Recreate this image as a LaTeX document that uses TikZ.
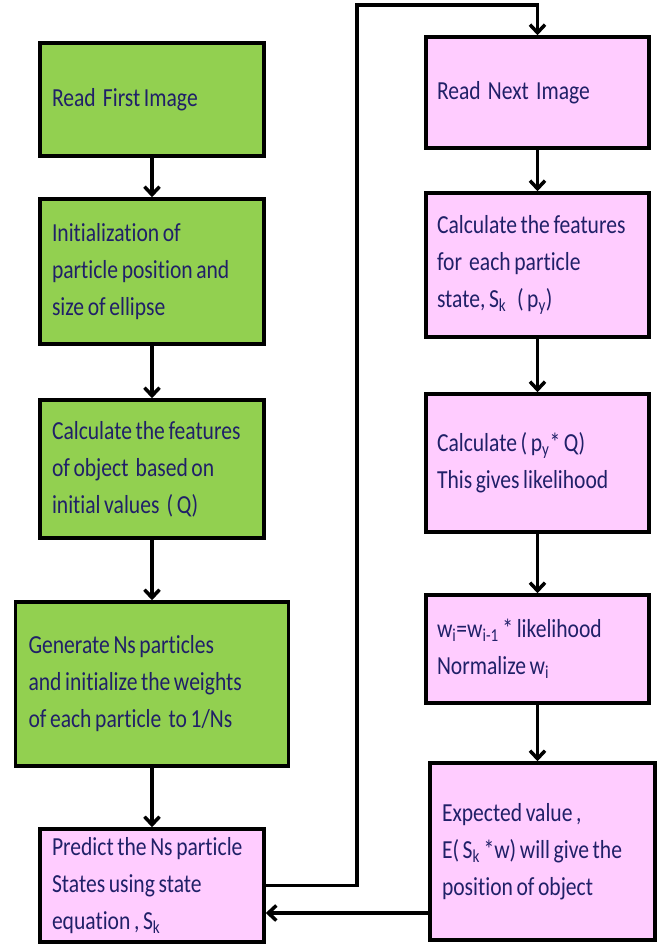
\documentclass[tikz,border=0pt]{standalone}
\usepackage{fontspec}
\setmainfont[FakeStretch=0.83,Ligatures=NoCommon]{Carlito}
\usetikzlibrary{arrows.meta}
\definecolor{boxgreen}{HTML}{92D050}
\definecolor{boxpink}{HTML}{FFCCFF}
\definecolor{txtnavy}{RGB}{32,32,104}
\newcommand\flowfont{\fontsize{26}{37}\selectfont}
\newcommand\fline[1]{\mbox{\spaceskip=3.6pt\relax #1}}
\tikzset{
  flowbox/.style={draw=black, line width=3.5pt, inner sep=0pt, align=left,
    text=txtnavy, font=\flowfont},
  greenbox/.style={flowbox, fill=boxgreen},
  pinkbox/.style={flowbox, fill=boxpink},
  arr/.style={line width=3.5pt, -{Straight Barb[length=8pt,width=15pt]}}
}
\hfuzz=100pt
\begin{document}
\begin{tikzpicture}[x=1pt,y=-1pt]
\useasboundingbox (0,0) rectangle (658,944);
% left column
\node[greenbox, minimum width=224pt, minimum height=113pt, text width=200pt] (L1) at (152,99.5) {\fline{Read\ \ First Image}};
\node[greenbox, minimum width=224pt, minimum height=145pt, text width=200pt] (L2) at (152,271.5) {\fline{Initialization of}\\\fline{particle position and}\\\fline{size of ellipse}};
\node[greenbox, minimum width=224pt, minimum height=138pt, text width=200pt] (L3) at (152,469) {\fline{Calculate the features}\\\fline{of object\ \ based on}\\\fline{initial values\ \ ( Q)}};
\node[greenbox, minimum width=273pt, minimum height=164pt, text width=247pt] (L4) at (152,684) {\fline{Generate Ns particles}\\\fline{and initialize the weights}\\\fline{of each particle\ \ to 1/Ns}};
\node[pinkbox, minimum width=224pt, minimum height=113pt, text width=200pt] (L5) at (152,885.5) {\fline{Predict the Ns particle}\\\fline{States using state}\\\fline{equation , S\textsubscript{k}}};
% right column
\node[pinkbox, minimum width=223pt, minimum height=111pt, text width=201pt] (R1) at (537.5,92.5) {\fline{Read\ \ Next\ \ Image}};
\node[pinkbox, minimum width=223pt, minimum height=144pt, text width=201pt] (R2) at (537.5,265) {\fline{Calculate the features}\\\fline{for\ \ each particle}\\\fline{state, S\textsubscript{k}\ \ \ ( p\textsubscript{y})}};
\node[pinkbox, minimum width=223pt, minimum height=138pt, text width=201pt] (R3) at (537.5,463) {\fline{Calculate ( p\textsubscript{y}* Q)}\\\fline{This gives likelihood}};
\node[pinkbox, minimum width=223pt, minimum height=108pt, text width=201pt] (R4) at (537.5,649) {\fline{w\textsubscript{i}=w\textsubscript{i-1} * likelihood}\\\fline{Normalize w\textsubscript{i}}};
\node[pinkbox, minimum width=225pt, minimum height=177pt, text width=201pt] (R5) at (542.5,851.5) {\fline{Expected value ,}\\\fline{E( S\textsubscript{k} *w) will give the}\\\fline{position of object}};
% vertical arrows
\draw[arr] (L1.south) -- (L2.north);
\draw[arr] (L2.south) -- (L3.north);
\draw[arr] (L3.south) -- (L4.north);
\draw[arr] (L4.south) -- (L5.north);
\draw[arr] (R1.south) -- (R2.north);
\draw[arr] (R2.south) -- (R3.north);
\draw[arr] (R3.south) -- (R4.north);
\draw[arr] (R4.south) -- (R4.south |- R5.north);
% loop connector
\coordinate (turn) at (357,5);
\draw[arr] (L5.east) -- (L5.east -| turn) -- (turn) -- (turn -| R1.north) -- (R1.north);
% return connector
\coordinate (inL) at ([yshift=-27.5pt]L5.east);
\draw[arr] (R5.west |- inL) -- (inL);
\end{tikzpicture}
\end{document}
